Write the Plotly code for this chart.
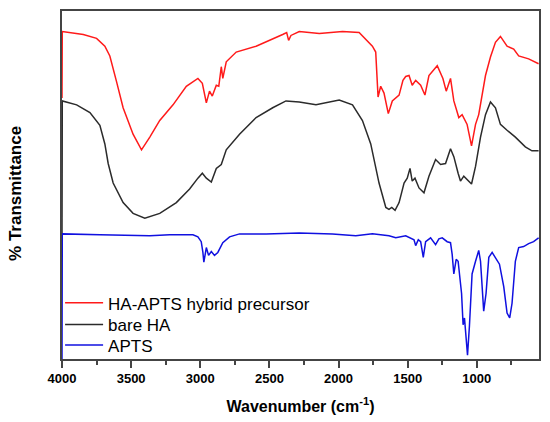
import plotly.graph_objects as go

# FTIR spectra, transmittance in arbitrary (offset) units
wn_hybrid = [4000, 3998, 3846, 3750, 3690, 3654, 3606, 3558, 3486, 3425, 3365, 3293, 3197, 3101,
             3017, 2985, 2956, 2933, 2913, 2884, 2866, 2848, 2837, 2812, 2740, 2596, 2404, 2375,
             2361, 2344, 2284, 2139, 1971, 1851, 1755, 1731, 1714, 1695, 1671, 1640, 1611, 1562,
             1534, 1514, 1490, 1467, 1442, 1406, 1375, 1346, 1286, 1245, 1221, 1190, 1166, 1130,
             1106, 1070, 1038, 1009, 986, 937, 901, 865, 829, 781, 733, 697, 625, 553]
t_hybrid = [267, 335, 332, 328, 320, 310, 284, 257, 230, 214, 227, 244, 260, 279,
            287, 282, 262, 274, 269, 280, 279, 299, 287, 304, 314, 320, 332, 334,
            326, 331, 335, 333, 335, 334, 320, 314, 268, 279, 272, 251, 264, 270,
            285, 289, 290, 280, 285, 280, 270, 290, 300, 287, 274, 287, 264, 247,
            250, 240, 218, 240, 250, 290, 309, 324, 330, 320, 317, 310, 307, 302]

wn_ha = [4000, 3998, 3894, 3798, 3726, 3690, 3666, 3630, 3558, 3486, 3401, 3293, 3173, 3077,
         3017, 2985, 2956, 2920, 2884, 2848, 2812, 2716, 2596, 2476, 2380, 2284, 2163, 1995,
         1899, 1827, 1767, 1707, 1658, 1635, 1615, 1591, 1562, 1526, 1503, 1483, 1467, 1447,
         1418, 1382, 1346, 1298, 1262, 1226, 1190, 1166, 1135, 1118, 1094, 1070, 1038, 1009,
         973, 937, 901, 865, 829, 781, 721, 649, 601, 553]
t_ha = [129, 264, 260, 252, 239, 220, 200, 180, 160, 149, 144, 149, 160, 174,
        185, 190, 185, 181, 195, 199, 214, 230, 247, 257, 264, 263, 260, 265,
        260, 244, 220, 180, 155, 153, 155, 152, 160, 180, 185, 195, 182, 185,
        175, 170, 187, 204, 199, 200, 215, 207, 190, 182, 187, 184, 179, 197,
        227, 250, 263, 257, 240, 234, 227, 217, 213, 213]

wn_apts = [4000, 3998, 3726, 3365, 3221, 3053, 3017, 2993, 2981, 2974, 2956, 2940, 2920, 2897,
           2873, 2837, 2788, 2716, 2524, 2284, 2044, 1875, 1755, 1635, 1586, 1514, 1454, 1442,
           1423, 1406, 1387, 1370, 1334, 1298, 1274, 1250, 1214, 1190, 1178, 1166, 1149, 1135,
           1110, 1099, 1089, 1074, 1067, 1053, 1034, 1009, 986, 973, 950, 933, 913, 889,
           853, 836, 805, 781, 762, 745, 721, 697, 661, 625, 589, 553]
t_apts = [0, 128, 127, 126, 127, 127, 125, 120, 109, 99, 114, 106, 110, 106,
          109, 119, 125, 128, 128, 129, 128, 126, 128, 126, 124, 126, 122, 116,
          122, 120, 104, 120, 124, 117, 123, 124, 120, 119, 107, 87, 102, 100,
          67, 35, 42, 20, 4, 34, 87, 100, 111, 100, 49, 67, 104, 109,
          100, 97, 74, 47, 42, 57, 100, 114, 115, 118, 120, 124]

names = ["HA-APTS hybrid precursor", "bare HA", "APTS"]
colors = ["#ff1a1a", "#2b2b2b", "#1010e0"]
legend_ids = ["legend", "legend2", "legend3"]
legend_y = [0.160, 0.098, 0.039]

font = "Arial, Liberation Sans, sans-serif"

fig = go.Figure()
for x, y, name, c, lg in zip([wn_hybrid, wn_ha, wn_apts], [t_hybrid, t_ha, t_apts],
                             names, colors, legend_ids):
    fig.add_trace(go.Scatter(x=x, y=y, name=name, mode="lines", legend=lg,
                             line=dict(color=c, width=1.5)))

legend_style = dict(x=-0.004, xanchor="left", yanchor="middle",
                    bgcolor="rgba(0,0,0,0)", font=dict(size=17, family=font),
                    itemwidth=38)

fig.update_layout(
    width=550, height=422,
    margin=dict(l=62, r=9, t=11, b=55),
    paper_bgcolor="white", plot_bgcolor="white",
    font=dict(family=font, color="black"),
    showlegend=True,
    legend=dict(y=legend_y[0], **legend_style),
    legend2=dict(y=legend_y[1], **legend_style),
    legend3=dict(y=legend_y[2], **legend_style),
    xaxis=dict(range=[4000, 550], showgrid=False, zeroline=False,
               showline=True, mirror=True, linecolor="#444", linewidth=1.5,
               tickmode="array", tickvals=[4000, 3500, 3000, 2500, 2000, 1500, 1000],
               ticks="outside", ticklen=7, tickwidth=1.5, tickcolor="#444",
               minor=dict(tickvals=[3750, 3250, 2750, 2250, 1750, 1250, 750],
                          ticks="outside", ticklen=4, tickwidth=1.5, tickcolor="#444"),
               tickfont=dict(size=13, family=font, weight="bold"),
               title=dict(text="Wavenumber (cm<sup>-1</sup>)", standoff=15,
                          font=dict(size=16, family=font, weight="bold"))),
    yaxis=dict(range=[0, 356], showgrid=False, zeroline=False,
               showline=True, mirror=True, linecolor="#444", linewidth=1.5,
               showticklabels=False, ticks=""),
)

fig.add_annotation(text="% Transmittance", xref="paper", yref="paper",
                   x=-0.098, y=0.475, xanchor="center", yanchor="middle",
                   textangle=-90, showarrow=False,
                   font=dict(size=17, family=font, weight="bold"))

# drop the browser's default 8px body margin so the figure fills the window
fig.write_html("out.html", config={"displayModeBar": False},
               post_script="document.body.style.margin='0';")
